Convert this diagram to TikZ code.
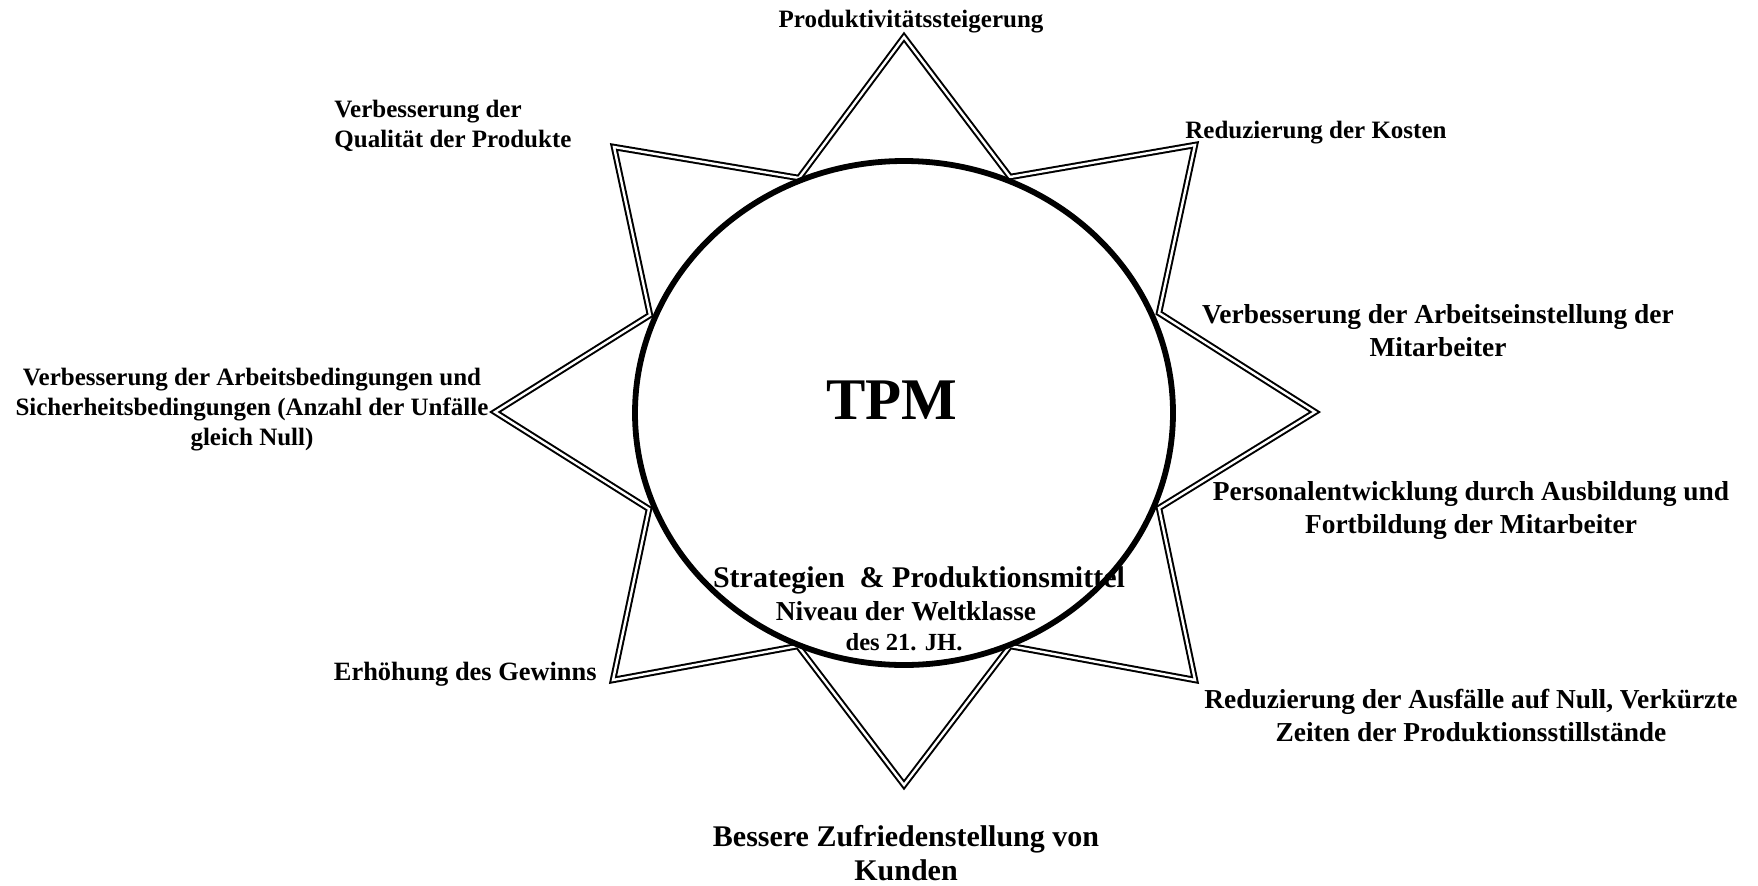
\documentclass[tikz,border=0pt]{standalone}
\usepackage{fontspec}
\setmainfont{Liberation Serif}
\usetikzlibrary{positioning}

\tikzset{
  zacke/.style={draw, line width=1pt, double=white, double distance=1.2pt, line join=miter},
  ring/.style={draw, line width=2.9pt, fill=white},
  lbl/.style={inner sep=0pt, font=\bfseries\fontsize{12.5}{15}\selectfont},
  lblr/.style={inner sep=0pt, align=center, font=\bfseries\fontsize{13.7}{16.5}\selectfont}
}

\begin{document}
\begin{tikzpicture}[x=0.5pt, y=-0.5pt]

\useasboundingbox (0,0) rectangle (1758,885);

\def\cx{904}
\def\cy{413}

% Stern
\draw[zacke] (904,37) -- (1010,177) -- (1195,145) -- (1159,313)
  -- (1315,412) -- (1159,508) -- (1195,680) -- (1010,646)
  -- (904,785) -- (798,646) -- (613,680) -- (649,509)
  -- (495,412) -- (650,315) -- (614,147) -- (799,178) -- cycle;

% Ellipse
\draw[ring] (\cx,\cy) ellipse [x radius=269, y radius=252];

\node[inner sep=0pt, font=\bfseries\fontsize{29.5}{32}\selectfont] (tpm) at (892,400) {TPM};

\node[inner sep=0pt, anchor=base, font=\bfseries\fontsize{15}{17}\selectfont] (strat) at (919,587) {Strategien\ \ \& Produktionsmittel};
\node[inner sep=0pt, anchor=base, font=\bfseries\fontsize{13.7}{16.5}\selectfont] (niveau) at (906,620) {Niveau der Weltklasse};
\node[inner sep=0pt, anchor=base, font=\bfseries\fontsize{12.3}{14}\selectfont] (jh) at (904,650) {des 21. JH.};

% Beschriftungen
\node[lbl, anchor=base] (prod) at (911,27) {Produktivitätssteigerung};
\node[lbl, anchor=west, align=left] (qual) at (334,126) {Verbesserung der\\Qualität der Produkte};
\node[lbl, anchor=base west] (kosten) at (1185,138) {Reduzierung der Kosten};
\node[lblr] (einst) at (1438,331) {Verbesserung der Arbeitseinstellung der\\Mitarbeiter};
\node[lbl, align=center] (bed) at (252,410) {Verbesserung der Arbeitsbedingungen und\\Sicherheitsbedingungen (Anzahl der Unfälle\\gleich Null)};
\node[lblr] (personal) at (1471,511) {Personalentwicklung durch Ausbildung und\\Fortbildung der Mitarbeiter};
\node[lbl, anchor=base east, font=\bfseries\fontsize{13.2}{15}\selectfont] (gewinn) at (597,680) {Erhöhung des Gewinns};
\node[lblr] (ausfall) at (1471,716) {Reduzierung der Ausfälle auf Null, Verkürzte\\Zeiten der Produktionsstillstände};
\node[inner sep=0pt, align=center, font=\bfseries\fontsize{15}{17}\selectfont] (kunden) at (906,853) {Bessere Zufriedenstellung von\\Kunden};

\end{tikzpicture}
\end{document}
